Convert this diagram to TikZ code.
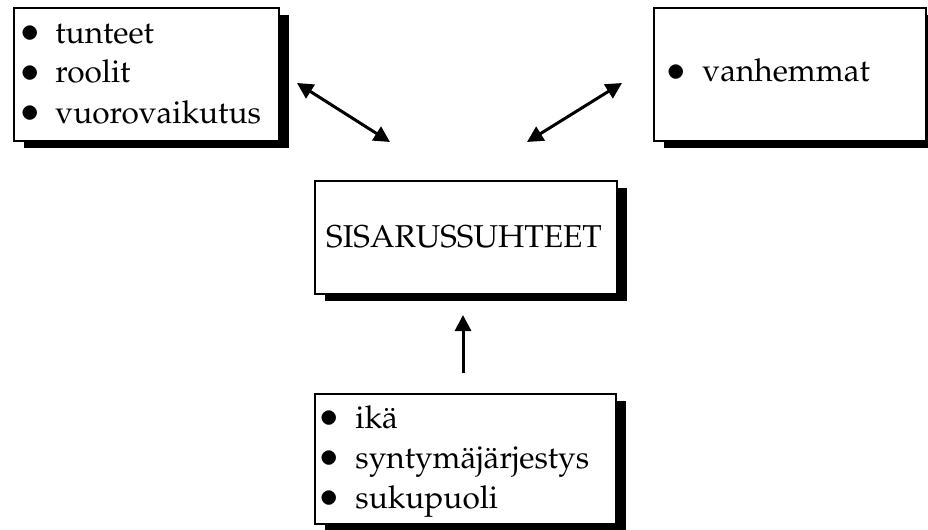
\documentclass[tikz,border=0pt]{standalone}
\usepackage[T1]{fontenc}
\usepackage{mathpazo}
\usetikzlibrary{arrows.meta,shadows}
\tikzset{
  box/.style={draw=black, line width=1pt, fill=white, inner sep=0pt, anchor=north west,
    drop shadow={shadow xshift=5pt, shadow yshift=-3.5pt, opacity=1, fill=black}},
  lbl/.style={inner sep=0pt, font=\fontsize{15.8}{20}\selectfont, anchor=base west},
  bul/.style={inner sep=0pt, font=\fontsize{21}{21}\selectfont, anchor=center},
  arr/.style={line width=1.5pt, -{Triangle[length=8pt,width=8pt]}},
  darr/.style={line width=1.5pt, {Triangle[length=8pt,width=8pt]}-{Triangle[length=8pt,width=8pt]}},
}
\begin{document}
\begin{tikzpicture}[x=0.5pt,y=-0.5pt]
\useasboundingbox (0,0) rectangle (928,530);
% boxes
\node[box, minimum width=132.5pt, minimum height=66.5pt] (b1) at (13,7) {};
\node[box, minimum width=136pt, minimum height=66.5pt] (b2) at (653,7) {};
\node[box, minimum width=151pt, minimum height=56.5pt] (bc) at (314,180) {};
\node[box, minimum width=150.5pt, minimum height=65pt] (bb) at (314,393) {};
% bullets
\node[bul] (u1) at (30,37) {\textbullet};
\node[bul] (u2) at (30,77) {\textbullet};
\node[bul] (u3) at (30,117) {\textbullet};
\node[bul] (u4) at (676,76) {\textbullet};
\node[bul] (u5) at (329,422) {\textbullet};
\node[bul] (u6) at (329,462) {\textbullet};
\node[bul] (u7) at (329,502) {\textbullet};
% texts
\node[lbl] (t1) at (55,43) {tunteet};
\node[lbl] (t2) at (55,83) {roolit};
\node[lbl] (t3) at (55,123) {vuorovaikutus};
\node[lbl] (t4) at (702,82) {vanhemmat};
\node[lbl, anchor=base] (tc) at (464,247) {SISARUSSUHTEET};
\node[lbl] (t5) at (355,428) {ik\"a};
\node[lbl] (t6) at (355,468) {syntym\"aj\"arjestys};
\node[lbl] (t7) at (355,508) {sukupuoli};
% arrows
\coordinate (a1s) at (297,83);
\coordinate (a1e) at (390,142);
\coordinate (a2s) at (527,142);
\coordinate (a2e) at (622,83);
\coordinate (a3s) at (463,373);
\coordinate (a3e) at (463,315);
\draw[darr] (a1s) -- (a1e);
\draw[darr] (a2s) -- (a2e);
\draw[arr] (a3s) -- (a3e);
\end{tikzpicture}
\end{document}
